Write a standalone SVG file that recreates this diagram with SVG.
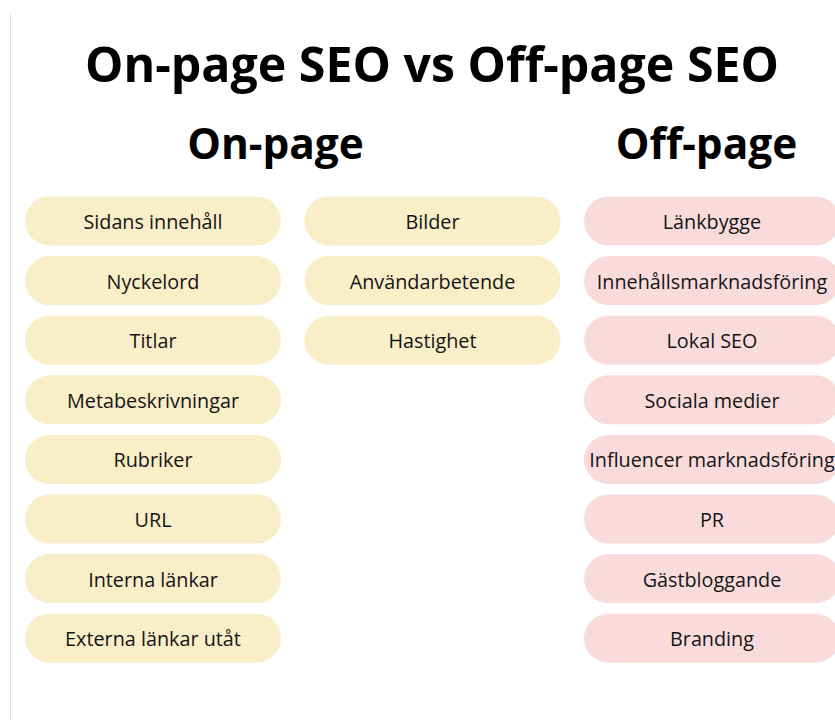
<svg xmlns="http://www.w3.org/2000/svg" width="835" height="720" viewBox="0 0 835 720">
<style>
.title{font-family:"Open Sans","Liberation Sans",sans-serif;font-weight:700;fill:#000;text-anchor:middle}
.pill text{font-family:"Open Sans","Liberation Sans",sans-serif;font-size:19.8px;fill:#151515;text-anchor:middle}
.on rect{fill:#F8EEC7}
.off rect{fill:#F9DBDC}
</style>
<rect width="835" height="720" fill="#fff"/>
<line x1="10.5" y1="14" x2="10.5" y2="720" stroke="#dddddd" stroke-width="1"/>
<text class="title" x="432" y="82" font-size="48.3">On-page SEO vs Off-page SEO</text>
<text class="title" x="275.5" y="159" font-size="42.4">On-page</text>
<text class="title" x="706.5" y="159" font-size="42.4">Off-page</text>
<g id="nodes">
<g id="n1" class="pill on"><rect x="25" y="196.5" width="256" height="49" rx="24.5"/><text x="153" y="229">Sidans innehåll</text></g>
<g id="n2" class="pill on"><rect x="25" y="256.1" width="256" height="49" rx="24.5"/><text x="153" y="288.6">Nyckelord</text></g>
<g id="n3" class="pill on"><rect x="25" y="315.7" width="256" height="49" rx="24.5"/><text x="153" y="348.2">Titlar</text></g>
<g id="n4" class="pill on"><rect x="25" y="375.3" width="256" height="49" rx="24.5"/><text x="153" y="407.8">Metabeskrivningar</text></g>
<g id="n5" class="pill on"><rect x="25" y="434.9" width="256" height="49" rx="24.5"/><text x="153" y="467.4">Rubriker</text></g>
<g id="n6" class="pill on"><rect x="25" y="494.5" width="256" height="49" rx="24.5"/><text x="153" y="527">URL</text></g>
<g id="n7" class="pill on"><rect x="25" y="554.1" width="256" height="49" rx="24.5"/><text x="153" y="586.6">Interna länkar</text></g>
<g id="n8" class="pill on"><rect x="25" y="613.7" width="256" height="49" rx="24.5"/><text x="153" y="646.2">Externa länkar utåt</text></g>
<g id="n9" class="pill on"><rect x="304.5" y="196.5" width="256" height="49" rx="24.5"/><text x="432.5" y="229">Bilder</text></g>
<g id="n10" class="pill on"><rect x="304.5" y="256.1" width="256" height="49" rx="24.5"/><text x="432.5" y="288.6">Användarbetende</text></g>
<g id="n11" class="pill on"><rect x="304.5" y="315.7" width="256" height="49" rx="24.5"/><text x="432.5" y="348.2">Hastighet</text></g>
<g id="n12" class="pill off"><rect x="584" y="196.5" width="256" height="49" rx="24.5"/><text x="712" y="229">Länkbygge</text></g>
<g id="n13" class="pill off"><rect x="584" y="256.1" width="256" height="49" rx="24.5"/><text x="712" y="288.6">Innehållsmarknadsföring</text></g>
<g id="n14" class="pill off"><rect x="584" y="315.7" width="256" height="49" rx="24.5"/><text x="712" y="348.2">Lokal SEO</text></g>
<g id="n15" class="pill off"><rect x="584" y="375.3" width="256" height="49" rx="24.5"/><text x="712" y="407.8">Sociala medier</text></g>
<g id="n16" class="pill off"><rect x="584" y="434.9" width="256" height="49" rx="24.5"/><text x="712" y="467.4">Influencer marknadsföring</text></g>
<g id="n17" class="pill off"><rect x="584" y="494.5" width="256" height="49" rx="24.5"/><text x="712" y="527">PR</text></g>
<g id="n18" class="pill off"><rect x="584" y="554.1" width="256" height="49" rx="24.5"/><text x="712" y="586.6">Gästbloggande</text></g>
<g id="n19" class="pill off"><rect x="584" y="613.7" width="256" height="49" rx="24.5"/><text x="712" y="646.2">Branding</text></g>
</g>
<g id="connectors"/>
</svg>
